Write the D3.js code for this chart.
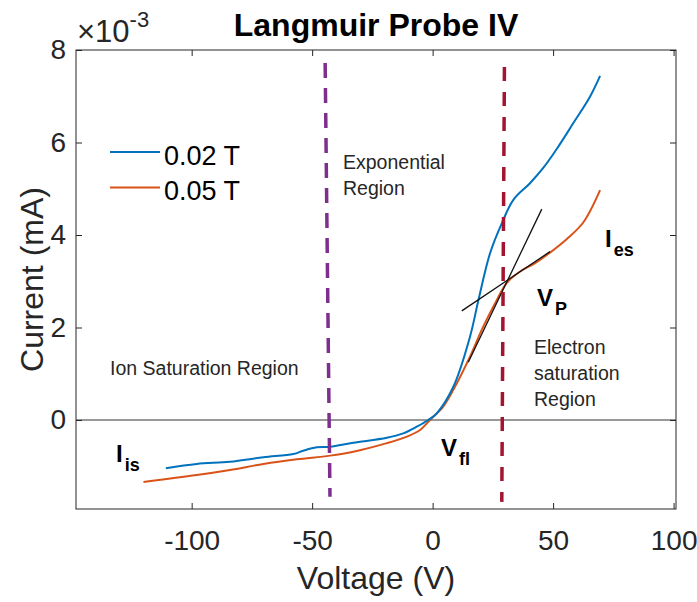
<!DOCTYPE html>
<html>
<head>
<meta charset="utf-8">
<script src="https://cdn.jsdelivr.net/npm/d3@7"></script>
<style>
  html, body { margin: 0; padding: 0; background: #fff; }
  svg { display: block; font-family: "Liberation Sans", Arial, Helvetica, sans-serif; }
</style>
</head>
<body>
<svg id="chart" width="697" height="602"></svg>
<script>
// ---- data (voltage in V, current in A) ----
const blueV = [-110.7, -97.9, -84.1, -70.2, -57.8, -53.7, -48.1, -42.6, -32.9, -19.0, -12.2, -6.6, -1.8, 1.7, 8.6, 15.5, 19.0, 23.8, 28.7, 33.5, 40.4, 45.9, 51.5, 58.4, 65.3, 69.5];
const blueI = [-1.044, -0.951, -0.902, -0.806, -0.735, -0.664, -0.590, -0.577, -0.491, -0.383, -0.288, -0.145, 0.0, 0.145, 0.72, 1.80, 2.59, 3.60, 4.25, 4.76, 5.12, 5.45, 5.86, 6.42, 6.99, 7.44].map(v => v * 1e-3);
const orangeV = [-120.0, -97.9, -84.1, -70.2, -56.4, -42.6, -32.9, -19.0, -10.7, -5.2, -1.1, 4.4, 10.0, 15.5, 21.0, 26.6, 30.7, 36.3, 42.5, 48.7, 55.6, 62.5, 69.5];
const orangeI = [-1.34, -1.19, -1.08, -0.95, -0.85, -0.77, -0.685, -0.50, -0.36, -0.216, 0.0, 0.29, 0.79, 1.37, 2.02, 2.59, 2.96, 3.21, 3.39, 3.62, 3.91, 4.27, 4.97].map(v => v * 1e-3);
const seriesNames = ["0.02 T", "0.05 T"];
const tangent1 = [[14.8, 1.25e-3], [45.3, 4.56e-3]];
const tangent2 = [[12.1, 2.36e-3], [48.7, 3.64e-3]];
const purpleLine = [[-44.6, 7.72e-3], [-42.6, -1.66e-3]];
const redLine = [[29.8, 7.63e-3], [28.7, -1.77e-3]];
const xTicks = [-100, -50, 0, 50, 100];
const yTicks = [0, 2e-3, 4e-3, 6e-3, 8e-3];
const xDomain = [-148, 101];
const yDomain = [-1.924e-3, 8e-3];

// ---- layout ----
const L = 76, R = 676, T = 50, B = 509;
const svg = d3.select("#chart");
const x = d3.scaleLinear().domain(xDomain).range([L, R]);
const y = d3.scaleLinear().domain(yDomain).range([B, T]);
const axisColor = "#262626";
const hyphenFmt = d => String(Math.round(d));

// zero line
svg.append("line").attr("x1", L).attr("x2", R).attr("y1", y(0)).attr("y2", y(0))
  .attr("stroke", "#333").attr("stroke-width", 1);

const line = d3.line().x(d => x(d[0])).y(d => y(d[1])).curve(d3.curveCatmullRom.alpha(0.5));
const blueData = blueV.map((v, i) => [v, blueI[i]]);
const orangeData = orangeV.map((v, i) => [v, orangeI[i]]);

svg.append("path").datum(orangeData).attr("d", line)
  .attr("fill", "none").attr("stroke", "#D95319").attr("stroke-width", 2);
svg.append("path").datum(blueData).attr("d", line)
  .attr("fill", "none").attr("stroke", "#0072BD").attr("stroke-width", 2);

const straight = d3.line().x(d => x(d[0])).y(d => y(d[1]));
[tangent1, tangent2].forEach(t => {
  svg.append("path").datum(t).attr("d", straight)
    .attr("fill", "none").attr("stroke", "#111").attr("stroke-width", 1.3);
});

svg.append("path").datum(purpleLine).attr("d", straight)
  .attr("fill", "none").attr("stroke", "#7E2F8E").attr("stroke-width", 3.5)
  .attr("stroke-dasharray", "15 10");
svg.append("path").datum(redLine).attr("d", straight)
  .attr("fill", "none").attr("stroke", "#A2142F").attr("stroke-width", 3.5)
  .attr("stroke-dasharray", "14 11");

// axes box
svg.append("rect").attr("x", L).attr("y", T).attr("width", R - L).attr("height", B - T)
  .attr("fill", "none").attr("stroke", axisColor).attr("stroke-width", 1);

const xAxisB = d3.axisBottom(x).tickValues(xTicks).tickSizeInner(-6).tickSizeOuter(0).tickFormat(hyphenFmt);
const gx = svg.append("g").attr("transform", `translate(0,${B})`).call(xAxisB);
gx.select(".domain").remove();
gx.selectAll("line").attr("stroke", axisColor);
gx.selectAll("text").attr("fill", axisColor).attr("font-size", 28).attr("dy", "0.71em").attr("y", 21);

const gxt = svg.append("g").attr("transform", `translate(0,${T})`).call(d3.axisTop(x).tickValues(xTicks).tickSizeInner(-6).tickSizeOuter(0).tickFormat(""));
gxt.select(".domain").remove();
gxt.selectAll("line").attr("stroke", axisColor);

const yAxisL = d3.axisLeft(y).tickValues(yTicks).tickSizeInner(-6).tickSizeOuter(0).tickFormat(d => String(Math.round(d * 1000)));
const gy = svg.append("g").attr("transform", `translate(${L},0)`).call(yAxisL);
gy.select(".domain").remove();
gy.selectAll("line").attr("stroke", axisColor);
gy.selectAll("text").attr("fill", axisColor).attr("font-size", 28).attr("x", -10);

const gyr = svg.append("g").attr("transform", `translate(${R},0)`).call(d3.axisRight(y).tickValues(yTicks).tickSizeInner(-6).tickSizeOuter(0).tickFormat(""));
gyr.select(".domain").remove();
gyr.selectAll("line").attr("stroke", axisColor);

// exponent label
const ex = svg.append("text").attr("x", 77).attr("y", 42).attr("fill", axisColor).attr("font-size", 31);
ex.append("tspan").text("\u00d710");
ex.append("tspan").attr("font-size", 22).attr("dy", -15).text("-3");

// title
svg.append("text").attr("x", (L + R) / 2).attr("y", 36).attr("text-anchor", "middle")
  .attr("font-size", 32).attr("font-weight", "bold").attr("fill", "#000").text("Langmuir Probe IV");

// axis labels
svg.append("text").attr("x", (L + R) / 2).attr("y", 589).attr("text-anchor", "middle")
  .attr("font-size", 32).attr("fill", axisColor).text("Voltage (V)");
svg.append("text").attr("transform", `translate(43,${(T + B) / 2}) rotate(-90)`).attr("text-anchor", "middle")
  .attr("font-size", 32).attr("fill", axisColor).text("Current (mA)");

// legend
const legendColors = ["#0072BD", "#D95319"];
seriesNames.forEach((name, i) => {
  const ly = 152 + i * 35.5;
  svg.append("line").attr("x1", 110).attr("x2", 160).attr("y1", ly).attr("y2", ly)
    .attr("stroke", legendColors[i]).attr("stroke-width", 2);
  svg.append("text").attr("x", 164).attr("y", ly + 12.5).attr("font-size", 27).attr("fill", "#000").text(name);
});

// annotations
function multi(xp, yp, lines) {
  lines.forEach((t, i) => {
    svg.append("text").attr("x", xp).attr("y", yp + i * 26).attr("font-size", 19.5).attr("fill", "#262626").text(t);
  });
}
multi(343, 169, ["Exponential", "Region"]);
multi(110, 375, ["Ion Saturation Region"]);
multi(534, 354, ["Electron", "saturation", "Region"]);

function subLabel(xp, yp, main, sub) {
  const t = svg.append("text").attr("x", xp).attr("y", yp).attr("font-weight", "bold").attr("fill", "#000").attr("font-size", 24);
  t.append("tspan").text(main);
  t.append("tspan").attr("font-size", 18).attr("dx", 2).attr("dy", 9).text(sub);
}
subLabel(116, 462, "I", "is");
subLabel(441, 456, "V", "fl");
subLabel(537, 306, "V", "P");
subLabel(605, 247, "I", "es");
</script>
</body>
</html>
